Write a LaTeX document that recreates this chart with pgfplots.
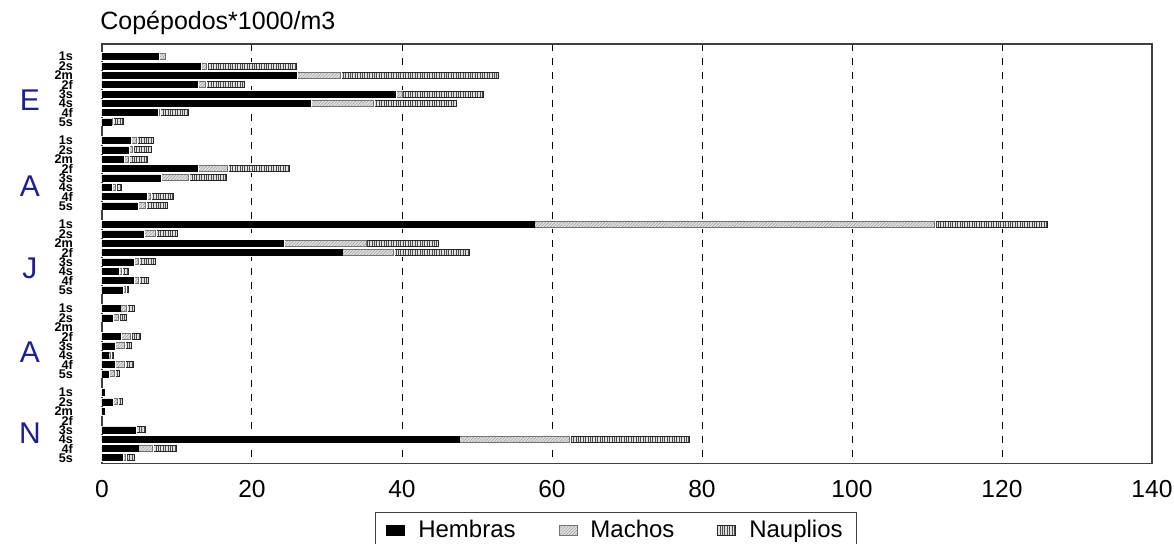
\documentclass[border=0pt]{standalone}
\usepackage{fontspec}
\setmainfont{Liberation Sans}
\usepackage{pgfplots}
\usepackage{pgfplotstable}
\pgfplotsset{compat=1.18}
\usetikzlibrary{patterns,patterns.meta}
\definecolor{grpblue}{RGB}{30,30,150}

% k = row (9 rows per sampling month, last one left empty)
\pgfplotstableread{
k  H     M     N
0  7.5   0.95  0
1  13.1  0.9   11.9
2  25.9  5.9   21.1
3  12.7  1.1   5.2
4  39.1  0.9   10.9
5  27.8  8.4   11.1
6  7.4   0.25  3.9
7  1.2   0.2   1.5
9  3.8   0.8   2.3
10 3.5   0.6   2.5
11 2.9   0.7   2.5
12 12.7  4.1   8.2
13 7.8   3.7   5.1
14 1.3   0.45  0.9
15 5.9   0.6   3.1
16 4.7   1.1   3.0
18 57.6  53.4  15.1
19 5.5   1.7   2.9
20 24.2  11.0  9.6
21 32.0  6.9   10.1
22 4.2   0.7   2.3
23 2.2   0.45  0.95
24 4.2   0.7   1.3
25 2.7   0.4   0.4
27 2.4   0.85  1.15
28 1.4   0.8   1.1
29 0     0     0
30 2.5   1.25  1.4
31 1.7   1.35  0.9
32 0.8   0.3   0.5
33 1.7   1.35  1.15
34 0.9   0.8   0.65
36 0.35  0     0
37 1.4   0.7   0.6
38 0.35  0     0
39 0     0     0
40 4.5   0     1.35
41 47.6  14.7  16.0
42 4.8   2.0   3.2
43 2.7   0.5   1.1
}\datatable

\begin{document}
\begin{tikzpicture}
\begin{axis}[
  at={(0,0)}, anchor=south west,
  scale only axis, width=525pt, height=209.75pt,
  xbar stacked, bar width=3pt,
  xmin=0, xmax=140, xtick={0,20,...,140},
  ymin=-1.36, ymax=43.6, y dir=reverse,
  ytick={0,1,2,3,4,5,6,7,9,10,11,12,13,14,15,16,18,19,20,21,22,23,24,25,27,28,29,30,31,32,33,34,36,37,38,39,40,41,42,43},
  yticklabels={1s,2s,2m,2f,3s,4s,4f,5s,1s,2s,2m,2f,3s,4s,4f,5s,1s,2s,2m,2f,3s,4s,4f,5s,1s,2s,2m,2f,3s,4s,4f,5s,1s,2s,2m,2f,3s,4s,4f,5s},
  xmajorgrids,
  major grid style={black, dash pattern=on 3.5pt off 3.5pt, line width=0.5pt},
  axis line style={black!75, line width=0.7pt},
  major tick length=0pt,
  /pgf/number format/assume math mode=true,
  xticklabel style={font=\fontsize{12.3}{14}\selectfont, yshift=-5pt},
  yticklabel style={font=\fontsize{6.3}{7}\selectfont\bfseries, xshift=-11pt},
  clip=false,
  legend columns=3,
  legend style={at={(axis description cs:0.26,-0.1156)}, anchor=north west,
    draw=black!75, line width=0.5pt, font=\fontsize{12}{14}\selectfont,
    inner xsep=5pt, inner ysep=2pt,
    /tikz/every odd column/.style={column sep=4pt},
    /tikz/every even column/.style={column sep=19pt}},
  legend cell align=left,
  legend image code/.code={\draw[#1] (0pt,-2.3pt) rectangle (9pt,2.7pt);},
]
\addplot[fill=black, draw=black, line width=0.4pt,
  preaction={draw=white, line width=1.4pt}]
  table[x=H, y=k] {\datatable};
\addplot[preaction={draw=white, line width=1.4pt},
  preaction={fill=gray!22},
  pattern={Lines[angle=45, distance=1.1pt, line width=0.3pt]}, pattern color=gray!75,
  draw=black!55, line width=0.5pt]
  table[x=M, y=k] {\datatable};
\addplot[preaction={draw=white, line width=1.4pt},
  preaction={fill=gray!25},
  pattern={Lines[angle=90, distance=1.2pt, line width=0.45pt]}, pattern color=black!70,
  draw=black!85, line width=0.5pt]
  table[x=N, y=k] {\datatable};
\legend{Hembras,Machos,Nauplios}

% sampling months
\node[font=\fontsize{15}{18}\selectfont, text=grpblue] at (axis cs:-9.6,4.65) {E};
\node[font=\fontsize{15}{18}\selectfont, text=grpblue] at (axis cs:-9.6,13.85) {A};
\node[font=\fontsize{15}{18}\selectfont, text=grpblue] at (axis cs:-9.6,22.65) {J};
\node[font=\fontsize{15}{18}\selectfont, text=grpblue] at (axis cs:-9.6,31.65) {A};
\node[font=\fontsize{15}{18}\selectfont, text=grpblue] at (axis cs:-9.6,40.3) {N};
\node[anchor=base west, font=\fontsize{12.5}{15}\selectfont, inner sep=0pt]
  at (rel axis cs:0,1) [xshift=-1pt, yshift=7pt] {Copépodos*1000/m3};
\end{axis}
\pgfresetboundingbox
\useasboundingbox (-51pt,-40.25pt) rectangle (536pt,231.75pt);
\end{tikzpicture}
\end{document}
